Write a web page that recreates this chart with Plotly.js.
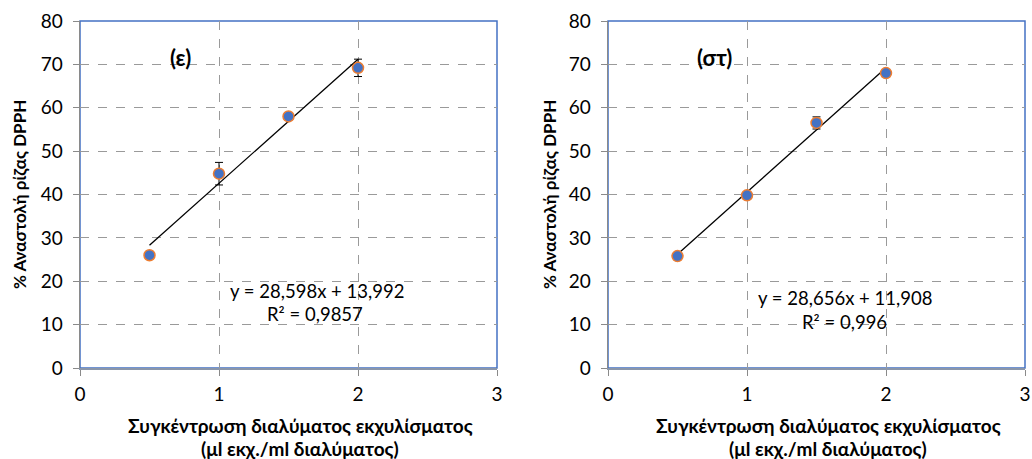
<!DOCTYPE html>
<html>
<head>
<meta charset="utf-8">
<script src="https://cdn.plot.ly/plotly-3.0.1.min.js"></script>
<style>html,body{margin:0;padding:0;background:#fff;}#chart{width:1032px;height:459px;}</style>
</head>
<body>
<div id="chart"></div>
<script>
// Data
const concentration = [0.5, 1, 1.5, 2];
const inhibitionE = [26, 44.8, 58, 69.2];
const errorE = [0, 2.6, 0, 2];
const inhibitionST = [25.8, 39.8, 56.5, 68];
const errorST = [0, 0, 1.4, 0];
const trendE = [28.598, 13.992];   // slope, intercept
const trendST = [28.656, 11.908];
const trendRange = [0.5, 2];
const labelE = "(ε)";
const labelST = "(στ)";
const eqE = ["y = 28,598x + 13,992", "R² = 0,9857"];
const eqST = ["y = 28,656x + 11,908", "R² = 0,996"];
const yTitle = "% Αναστολή ρίζας DPPH";
const xTitle = ["Συγκέντρωση διαλύματος εκχυλίσματος", "(μl εκχ./ml διαλύματος)"];
const xTicks = [0, 1, 2, 3];
const yTicks = [0, 10, 20, 30, 40, 50, 60, 70, 80];

const FONT = "Lato, 'Noto Sans', sans-serif";
const W = 1032, H = 459;
const plotTop = 21, plotBottom = 368;
const left1 = 80, right1 = 497, left2 = 608, right2 = 1025;

function pointsTrace(y, err, xa, ya) {
  return {
    x: concentration, y: y, xaxis: xa, yaxis: ya, type: 'scatter', mode: 'markers',
    marker: {color: '#4472C4', size: 11, line: {color: '#ED7D31', width: 1.5}},
    error_y: {type: 'data', array: err, visible: true, color: '#000', thickness: 1, width: 4},
    showlegend: false, hoverinfo: 'skip'
  };
}
function trendTrace(c, xa, ya) {
  return {
    x: trendRange, y: trendRange.map(v => c[0] * v + c[1]), xaxis: xa, yaxis: ya,
    type: 'scatter', mode: 'lines', line: {color: '#000', width: 1.3},
    showlegend: false, hoverinfo: 'skip'
  };
}

const data = [
  trendTrace(trendE, 'x', 'y'),
  pointsTrace(inhibitionE, errorE, 'x', 'y'),
  trendTrace(trendST, 'x2', 'y2'),
  pointsTrace(inhibitionST, errorST, 'x2', 'y2')
];

function xAxis(l, r, anchor) {
  return {
    domain: [l / W, r / W], range: [0, 3], anchor: anchor,
    tickvals: xTicks, ticktext: xTicks.map(String),
    showgrid: true, gridcolor: '#9a9a9a', griddash: 'dash', gridwidth: 1,
    zeroline: false, showline: true, linecolor: '#8a96aa', linewidth: 1.5,
    ticks: 'outside', ticklen: 6, tickcolor: '#8a8a8a', tickwidth: 1, ticklabelstandoff: 3,
    tickfont: {family: FONT, size: 19, color: '#000'}, fixedrange: true
  };
}
function yAxis(anchor) {
  return {
    domain: [1 - plotBottom / H, 1 - plotTop / H], range: [0, 80], anchor: anchor,
    tickvals: yTicks, ticktext: yTicks.map(String),
    showgrid: true, gridcolor: '#9a9a9a', griddash: 'dash', gridwidth: 1,
    zeroline: false, showline: true, linecolor: '#8a8a8a', linewidth: 1.5,
    ticks: 'outside', ticklen: 6, tickcolor: '#8a8a8a', tickwidth: 1, ticklabelstandoff: 6,
    tickfont: {family: FONT, size: 19, color: '#000'}, fixedrange: true
  };
}

function rect(l, r) {
  return {type: 'rect', xref: 'paper', yref: 'paper', layer: 'below',
    x0: l / W, x1: r / W, y0: 1 - plotBottom / H, y1: 1 - plotTop / H,
    line: {color: '#4472C4', width: 1.5}, fillcolor: 'rgba(0,0,0,0)'};
}

const ann = [];
function addPanel(xa, ya, label, eq, labelPos, eqPos, r2Pos, yTitleX, xTitleX) {
  ann.push({xref: xa, yref: ya, x: labelPos[0], y: labelPos[1], text: '<b>' + label + '</b>', showarrow: false,
    font: {family: FONT, size: 22, color: '#000'}});
  ann.push({xref: xa, yref: ya, x: eqPos[0], y: eqPos[1], text: eq[0], showarrow: false,
    font: {family: FONT, size: 18.5, color: '#000'}});
  ann.push({xref: xa, yref: ya, x: r2Pos[0], y: r2Pos[1], text: eq[1], showarrow: false,
    font: {family: FONT, size: 18.5, color: '#000'}});
  ann.push({xref: 'paper', yref: 'paper', x: yTitleX / W, y: 1 - 195 / H, text: '<b>' + yTitle + '</b>',
    textangle: -90, showarrow: false, xanchor: 'center', yanchor: 'middle',
    font: {family: FONT, size: 17, color: '#000'}});
  ann.push({xref: 'paper', yref: 'paper', x: xTitleX / W, y: 1 - 425 / H, text: '<b>' + xTitle[0] + '</b>',
    showarrow: false, xanchor: 'center', yanchor: 'middle', font: {family: FONT, size: 19, color: '#000'}});
  ann.push({xref: 'paper', yref: 'paper', x: xTitleX / W, y: 1 - 448 / H, text: '<b>' + xTitle[1] + '</b>',
    showarrow: false, xanchor: 'center', yanchor: 'middle', font: {family: FONT, size: 19, color: '#000'}});
}
addPanel('x', 'y', labelE, eqE, [0.72, 71.5], [1.705, 17.75], [1.69, 12.45], 19, 300);
addPanel('x2', 'y2', labelST, eqST, [0.763, 71.5], [1.705, 16.1], [1.705, 10.6], 549, 828);

const layout = {
  width: W, height: H, margin: {l: 0, r: 0, t: 0, b: 0},
  paper_bgcolor: '#fff', plot_bgcolor: 'rgba(0,0,0,0)',
  xaxis: xAxis(left1, right1, 'y'), yaxis: yAxis('x'),
  xaxis2: xAxis(left2, right2, 'y2'), yaxis2: yAxis('x2'),
  shapes: [rect(left1, right1), rect(left2, right2)],
  annotations: ann, showlegend: false
};

Plotly.newPlot('chart', data, layout, {displayModeBar: false, staticPlot: true});
</script>
</body>
</html>
